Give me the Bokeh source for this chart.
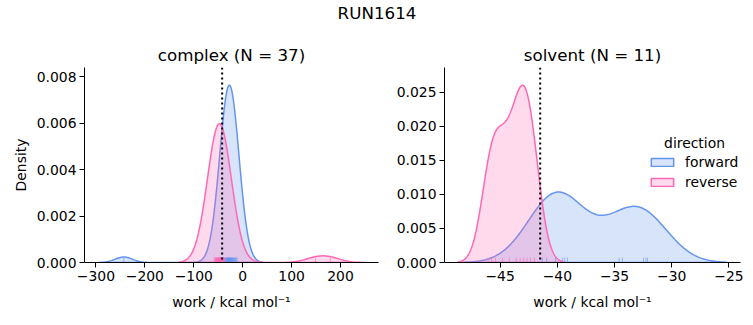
import numpy as np
from bokeh.plotting import figure
from bokeh.layouts import column, row
from bokeh.models import (Range1d, FixedTicker, NumeralTickFormatter, CustomJSTickFormatter,
                          Span, Legend, LegendItem, Label)
from bokeh.core.properties import value
from bokeh.embed import file_html
from bokeh.resources import INLINE

# ---------------- data ----------------
suptitle = "RUN1614"
directions = ["forward", "reverse"]

complex_forward = [-243.0, -45.2, -42.8, -40.9, -39.3, -37.6, -36.4, -35.2, -34.1, -33.3,
                   -32.5, -31.7, -31.0, -30.4, -29.8, -29.2, -28.7, -28.1, -27.6, -27.0,
                   -26.4, -25.9, -25.3, -24.6, -24.0, -23.3, -22.6, -21.8, -21.0, -20.1,
                   -19.2, -18.2, -17.1, -15.9, -14.6, -13.2, -11.5]
complex_reverse = [-58.5, -56.9, -55.6, -54.6, -53.8, -53.0, -52.3, -51.7, -51.1, -50.6,
                   -50.1, -49.6, -49.2, -48.8, -48.4, -48.0, -47.6, -47.2, -46.8, -46.4,
                   -46.0, -45.5, -45.0, -44.5, -44.0, -43.4, -42.8, -42.1, -41.3, -40.4,
                   -39.3, -38.1, -36.6, -49.9, -47.4, 149.0, 179.0]
solvent_forward = [-41.31, -40.93, -40.15, -39.56, -39.36, -39.12, -34.6, -34.31, -32.47, -32.26, -32.12]
solvent_reverse = [-46.05, -45.75, -45.4, -44.8, -44.2, -43.6, -43.25, -42.95, -42.65, -42.35, -42.0]

complex_estimate = -42.0
solvent_estimate = -41.5

complex_xticks = [-300, -200, -100, 0, 100, 200]
complex_yticks = [0.000, 0.002, 0.004, 0.006, 0.008]
solvent_xticks = [-45, -40, -35, -30, -25]
solvent_yticks = [0.000, 0.005, 0.010, 0.015, 0.020, 0.025]

colors = {"forward": "#6495ED", "reverse": "#FF69B4"}
xlabel = "work / kcal mol\u207b\u00b9"
ylabel = "Density"

FONT = "DejaVu Sans"
TICK_FS = "13.9px"
TITLE_FS = "16.7px"

n_total = len(complex_forward) + len(complex_reverse) + len(solvent_forward) + len(solvent_reverse)


def kde(values, gridsize=200, cut=3):
    x = np.asarray(values, dtype=float)
    n = len(x)
    bw = x.std(ddof=1) * n ** (-1.0 / 5.0)
    grid = np.linspace(x.min() - cut * bw, x.max() + cut * bw, gridsize)
    dens = np.exp(-0.5 * ((grid[:, None] - x[None, :]) / bw) ** 2).sum(axis=1) / (n * bw * np.sqrt(2 * np.pi))
    return grid, dens * n / n_total


FRAME_H = 195
TOP_H = 28
ROW_TOP = 39
ROW_BOTTOM = 63


def style_axes(p):
    for ax in (p.xaxis[0], p.yaxis[0]):
        ax.axis_line_color = "black"
        ax.axis_line_width = 1
        ax.major_tick_line_color = "black"
        ax.major_tick_line_width = 1
        ax.major_tick_out = 5
        ax.major_tick_in = 0
        ax.minor_tick_out = 0
        ax.minor_tick_in = 0
        ax.major_label_text_font = FONT
        ax.major_label_text_font_size = TICK_FS
        ax.major_label_text_color = "black"
        ax.axis_label_text_font = FONT
        ax.axis_label_text_font_size = TICK_FS
        ax.axis_label_text_font_style = "normal"
        ax.axis_label_text_color = "black"
    p.xaxis[0].major_label_standoff = 3
    p.xaxis[0].axis_label_standoff = 10
    p.yaxis[0].major_label_standoff = 3
    p.yaxis[0].axis_label_standoff = 5
    p.xgrid.visible = False
    p.ygrid.visible = False
    p.outline_line_color = None


def make_panel(name, fwd, rev, estimate, xticks, yticks, frame_w, left, right, with_ylabel):
    curves = {"forward": kde(fwd), "reverse": kde(rev)}
    lo = min(g.min() for g, _ in curves.values())
    hi = max(g.max() for g, _ in curves.values())
    pad = 0.05 * (hi - lo)
    ytop = 1.1 * max(d.max() for _, d in curves.values())

    p = figure(frame_width=frame_w, frame_height=FRAME_H,
               min_border_left=left, min_border_right=right,
               min_border_top=ROW_TOP, min_border_bottom=ROW_BOTTOM,
               x_range=Range1d(lo - pad, hi + pad), y_range=Range1d(0, ytop),
               output_backend="svg", toolbar_location=None,
               title=f"{name} (N = {len(fwd)})")
    p.title.align = "center"
    p.title.text_font = FONT
    p.title.text_font_size = TITLE_FS
    p.title.text_font_style = "normal"
    p.title.text_color = "black"
    p.title.standoff = 5

    renderers = {}
    for d in directions:
        g, dens = curves[d]
        c = colors[d]
        xs = np.concatenate([[g[0]], g, [g[-1]]])
        ys = np.concatenate([[0.0], dens, [0.0]])
        renderers[d] = p.patch(x=xs, y=ys, fill_color=c, fill_alpha=0.25,
                               line_color=c, line_width=1.5)
    rug_h = 0.025 * ytop
    for d, vals in (("forward", fwd), ("reverse", rev)):
        v = np.asarray(vals, dtype=float)
        p.segment(x0=v, y0=np.zeros_like(v), x1=v, y1=np.full_like(v, rug_h),
                  line_color=colors[d], line_width=1, line_alpha=0.6)

    p.add_layout(Span(location=estimate, dimension="height", line_color="black",
                      line_width=2, line_dash="2 3"))

    style_axes(p)
    p.xaxis[0].ticker = FixedTicker(ticks=xticks)
    p.yaxis[0].ticker = FixedTicker(ticks=yticks)
    p.xaxis[0].formatter = CustomJSTickFormatter(
        code="return (tick < 0 ? '\u2212' : '') + Math.abs(tick).toString();")
    p.yaxis[0].formatter = NumeralTickFormatter(format="0.000")
    p.xaxis[0].axis_label = xlabel
    if with_ylabel:
        p.yaxis[0].axis_label = ylabel
    return p, renderers, (lo - pad, hi + pad, ytop)


p1, _, _ = make_panel("complex", complex_forward, complex_reverse, complex_estimate,
                      complex_xticks, complex_yticks, 294, 84, 12, True)
p2, lr, (sx0, sx1, sytop) = make_panel("solvent", solvent_forward, solvent_reverse, solvent_estimate,
                                       solvent_xticks, solvent_yticks, 296, 54, 13, False)

legend = Legend(items=[LegendItem(label=d, renderers=[lr[d]]) for d in directions],
                location=(204, 70), orientation="vertical",
                glyph_width=28, glyph_height=10, label_height=20, spacing=0,
                label_standoff=9, padding=0, margin=0,
                border_line_color=None, background_fill_alpha=0,
                label_text_font=FONT, label_text_font_size=TICK_FS, label_text_color="black")
p2.add_layout(legend)

# legend title "direction"
lab_x = sx0 + 250.0 / 296.0 * (sx1 - sx0)
lab_y = 120.0 / FRAME_H * sytop
p2.add_layout(Label(x=lab_x, y=lab_y, text="direction", text_align="center", text_baseline="middle",
                    text_font=FONT, text_font_size=TICK_FS, text_color="black"))

# super title
top = figure(frame_width=753, frame_height=TOP_H, min_border=0,
             x_range=Range1d(0, 1), y_range=Range1d(0, 1),
             x_axis_type=None, y_axis_type=None,
             output_backend="svg", toolbar_location=None)
top.outline_line_color = None
top.xgrid.visible = False
top.ygrid.visible = False
top.text(x=[0.5], y=[1 - 12.0 / TOP_H], text=[suptitle], text_align="center", text_baseline="middle",
         text_font=value(FONT), text_font_size="16.7px", text_color="black")

layout = column(top, row(p1, p2))

with open("out.html", "w", encoding="utf-8") as f:
    f.write(file_html(layout, INLINE))
